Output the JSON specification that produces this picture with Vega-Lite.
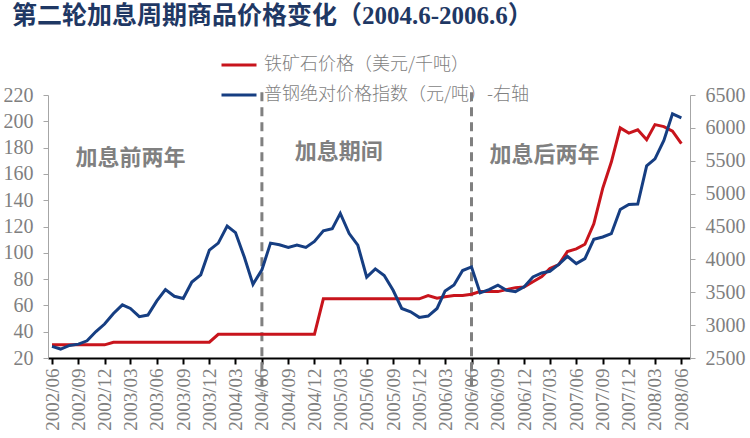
{
  "$schema": "https://vega.github.io/schema/vega-lite/v6.json",
  "width": 642,
  "height": 263,
  "autosize": {"type": "none"},
  "padding": {"left": 48, "top": 95, "right": 60, "bottom": 80},
  "background": "#ffffff",
  "config": {
    "view": {"stroke": null},
    "axis": {"labelOverlap": false, "labelFlush": false, "grid": false, "title": null},
    "axisLeft": {
      "labelFont": "Liberation Serif",
      "labelFontSize": 20,
      "labelColor": "#7f7f7f",
      "labelPadding": 10,
      "domainColor": "#a6a6a6",
      "tickColor": "#a6a6a6",
      "tickSize": 5
    }
  },
  "title": {
    "text": "第二轮加息周期商品价格变化（2004.6-2006.6）",
    "anchor": "start",
    "frame": "group",
    "dx": -36,
    "dy": -13,
    "font": "Liberation Serif, Noto Sans CJK SC",
    "fontSize": 25,
    "fontWeight": "bold",
    "color": "#1f3864"
  },
  "data": {
    "values": [
      {"month": "2002-06-01", "ore": 30, "steel": 2676},
      {"month": "2002-07-01", "ore": 30, "steel": 2636},
      {"month": "2002-08-01", "ore": 30, "steel": 2691},
      {"month": "2002-09-01", "ore": 30, "steel": 2711},
      {"month": "2002-10-01", "ore": 30, "steel": 2761},
      {"month": "2002-11-01", "ore": 30, "steel": 2902},
      {"month": "2002-12-01", "ore": 30, "steel": 3017},
      {"month": "2003-01-01", "ore": 32, "steel": 3178},
      {"month": "2003-02-01", "ore": 32, "steel": 3309},
      {"month": "2003-03-01", "ore": 32, "steel": 3253},
      {"month": "2003-04-01", "ore": 32, "steel": 3128},
      {"month": "2003-05-01", "ore": 32, "steel": 3153},
      {"month": "2003-06-01", "ore": 32, "steel": 3369},
      {"month": "2003-07-01", "ore": 32, "steel": 3540},
      {"month": "2003-08-01", "ore": 32, "steel": 3439},
      {"month": "2003-09-01", "ore": 32, "steel": 3404},
      {"month": "2003-10-01", "ore": 32, "steel": 3655},
      {"month": "2003-11-01", "ore": 32, "steel": 3765},
      {"month": "2003-12-01", "ore": 32, "steel": 4142},
      {"month": "2004-01-01", "ore": 38, "steel": 4247},
      {"month": "2004-02-01", "ore": 38, "steel": 4508},
      {"month": "2004-03-01", "ore": 38, "steel": 4408},
      {"month": "2004-04-01", "ore": 38, "steel": 4032},
      {"month": "2004-05-01", "ore": 38, "steel": 3620},
      {"month": "2004-06-01", "ore": 38, "steel": 3841},
      {"month": "2004-07-01", "ore": 38, "steel": 4247},
      {"month": "2004-08-01", "ore": 38, "steel": 4222},
      {"month": "2004-09-01", "ore": 38, "steel": 4182},
      {"month": "2004-10-01", "ore": 38, "steel": 4217},
      {"month": "2004-11-01", "ore": 38, "steel": 4182},
      {"month": "2004-12-01", "ore": 38, "steel": 4272},
      {"month": "2005-01-01", "ore": 65, "steel": 4433},
      {"month": "2005-02-01", "ore": 65, "steel": 4468},
      {"month": "2005-03-01", "ore": 65, "steel": 4699},
      {"month": "2005-04-01", "ore": 65, "steel": 4393},
      {"month": "2005-05-01", "ore": 65, "steel": 4217},
      {"month": "2005-06-01", "ore": 65, "steel": 3730},
      {"month": "2005-07-01", "ore": 65, "steel": 3856},
      {"month": "2005-08-01", "ore": 65, "steel": 3755},
      {"month": "2005-09-01", "ore": 65, "steel": 3530},
      {"month": "2005-10-01", "ore": 65, "steel": 3253},
      {"month": "2005-11-01", "ore": 65, "steel": 3203},
      {"month": "2005-12-01", "ore": 65, "steel": 3118},
      {"month": "2006-01-01", "ore": 67.5, "steel": 3138},
      {"month": "2006-02-01", "ore": 65.5, "steel": 3253},
      {"month": "2006-03-01", "ore": 66.5, "steel": 3520},
      {"month": "2006-04-01", "ore": 67.5, "steel": 3610},
      {"month": "2006-05-01", "ore": 67.5, "steel": 3830},
      {"month": "2006-06-01", "ore": 68.5, "steel": 3885},
      {"month": "2006-07-01", "ore": 70.5, "steel": 3490},
      {"month": "2006-08-01", "ore": 70.5, "steel": 3541},
      {"month": "2006-09-01", "ore": 70.5, "steel": 3607},
      {"month": "2006-10-01", "ore": 72, "steel": 3531},
      {"month": "2006-11-01", "ore": 73.5, "steel": 3510},
      {"month": "2006-12-01", "ore": 74, "steel": 3581},
      {"month": "2007-01-01", "ore": 78, "steel": 3733},
      {"month": "2007-02-01", "ore": 82, "steel": 3794},
      {"month": "2007-03-01", "ore": 88, "steel": 3819},
      {"month": "2007-04-01", "ore": 91, "steel": 3925},
      {"month": "2007-05-01", "ore": 101, "steel": 4047},
      {"month": "2007-06-01", "ore": 103, "steel": 3936},
      {"month": "2007-07-01", "ore": 106.5, "steel": 4011},
      {"month": "2007-08-01", "ore": 122, "steel": 4305},
      {"month": "2007-09-01", "ore": 149, "steel": 4340},
      {"month": "2007-10-01", "ore": 169, "steel": 4391},
      {"month": "2007-11-01", "ore": 195, "steel": 4760},
      {"month": "2007-12-01", "ore": 191, "steel": 4836},
      {"month": "2008-01-01", "ore": 193.5, "steel": 4841},
      {"month": "2008-02-01", "ore": 186, "steel": 5423},
      {"month": "2008-03-01", "ore": 197.5, "steel": 5529},
      {"month": "2008-04-01", "ore": 196, "steel": 5808},
      {"month": "2008-05-01", "ore": 192.5, "steel": 6213},
      {"month": "2008-06-01", "ore": 183, "steel": 6152}
    ]
  },
  "encoding": {
    "x": {
      "field": "month",
      "type": "temporal",
      "scale": {
        "type": "utc",
        "domain": [
          {"year": 2002, "month": 5, "date": 18, "utc": true},
          {"year": 2008, "month": 7, "date": 1, "utc": true}
        ]
      },
      "axis": {
        "format": "%Y/%m",
        "values": [
          {"year": 2002, "month": 6, "date": 1, "utc": true},
          {"year": 2002, "month": 9, "date": 1, "utc": true},
          {"year": 2002, "month": 12, "date": 1, "utc": true},
          {"year": 2003, "month": 3, "date": 1, "utc": true},
          {"year": 2003, "month": 6, "date": 1, "utc": true},
          {"year": 2003, "month": 9, "date": 1, "utc": true},
          {"year": 2003, "month": 12, "date": 1, "utc": true},
          {"year": 2004, "month": 3, "date": 1, "utc": true},
          {"year": 2004, "month": 6, "date": 1, "utc": true},
          {"year": 2004, "month": 9, "date": 1, "utc": true},
          {"year": 2004, "month": 12, "date": 1, "utc": true},
          {"year": 2005, "month": 3, "date": 1, "utc": true},
          {"year": 2005, "month": 6, "date": 1, "utc": true},
          {"year": 2005, "month": 9, "date": 1, "utc": true},
          {"year": 2005, "month": 12, "date": 1, "utc": true},
          {"year": 2006, "month": 3, "date": 1, "utc": true},
          {"year": 2006, "month": 6, "date": 1, "utc": true},
          {"year": 2006, "month": 9, "date": 1, "utc": true},
          {"year": 2006, "month": 12, "date": 1, "utc": true},
          {"year": 2007, "month": 3, "date": 1, "utc": true},
          {"year": 2007, "month": 6, "date": 1, "utc": true},
          {"year": 2007, "month": 9, "date": 1, "utc": true},
          {"year": 2007, "month": 12, "date": 1, "utc": true},
          {"year": 2008, "month": 3, "date": 1, "utc": true},
          {"year": 2008, "month": 6, "date": 1, "utc": true}
        ],
        "labelAngle": -90,
        "labelFont": "Liberation Serif",
        "labelFontSize": 19,
        "labelColor": "#7f7f7f",
        "labelPadding": 4,
        "domainColor": "#000000",
        "domainWidth": 2,
        "tickColor": "#000000",
        "tickWidth": 2,
        "tickSize": 6
      }
    }
  },
  "layer": [
    {
      "layer": [
        {
          "data": {"values": [{"month": "2004-06-01"}, {"month": "2006-06-01"}]},
          "mark": {"type": "rule", "color": "#808080", "strokeWidth": 3, "strokeDash": [9, 6]},
          "encoding": {
            "y": {
              "datum": 222,
              "type": "quantitative",
              "scale": {"domain": [20, 220], "nice": false},
              "axis": {"orient": "left", "values": [20, 40, 60, 80, 100, 120, 140, 160, 180, 200, 220], "labelOverlap": false}
            },
            "y2": {"datum": -7}
          }
        },
        {
          "data": {
            "values": [
              {"month": "2003-03-01", "v": 172, "label": "加息前两年"},
              {"month": "2005-02-24", "v": 176.5, "label": "加息期间"},
              {"month": "2007-02-10", "v": 174, "label": "加息后两年"}
            ]
          },
          "mark": {"type": "text", "font": "Noto Sans CJK SC", "fontSize": 22, "fontWeight": "bold", "color": "#808080"},
          "encoding": {
            "y": {
              "field": "v",
              "type": "quantitative",
              "axis": {"orient": "left", "values": [20, 40, 60, 80, 100, 120, 140, 160, 180, 200, 220], "labelOverlap": false}
            },
            "text": {"field": "label"}
          }
        },
        {
          "mark": {"type": "line", "strokeWidth": 3, "interpolate": "linear"},
          "encoding": {
            "y": {
              "field": "ore",
              "type": "quantitative",
              "axis": {"orient": "left", "values": [20, 40, 60, 80, 100, 120, 140, 160, 180, 200, 220], "labelOverlap": false}
            },
            "color": {
              "datum": "铁矿石价格（美元/千吨）",
              "type": "nominal",
              "scale": {
                "domain": ["铁矿石价格（美元/千吨）", "普钢绝对价格指数（元/吨）-右轴"],
                "range": ["#c8141c", "#163e82"]
              },
              "legend": {
                "orient": "none",
                "legendX": 172,
                "legendY": -49,
                "direction": "vertical",
                "title": null,
                "padding": 0,
                "symbolType": "stroke",
                "symbolSize": 1225,
                "symbolStrokeWidth": 3,
                "labelFont": "Noto Sans CJK SC",
                "labelFontSize": 18,
                "labelFontWeight": 300,
                "labelColor": "#7f7f7f",
                "labelOffset": 6,
                "labelLimit": 400,
                "rowPadding": 2
              }
            }
          }
        }
      ]
    },
    {
      "mark": {"type": "line", "strokeWidth": 3, "interpolate": "linear"},
      "encoding": {
        "y": {
          "field": "steel",
          "type": "quantitative",
          "scale": {"domain": [2500, 6500], "nice": false},
          "axis": {
            "orient": "right",
            "values": [2500, 3000, 3500, 4000, 4500, 5000, 5500, 6000, 6500],
            "format": "d",
            "labelFont": "Liberation Serif",
            "labelFontSize": 20,
            "labelColor": "#7f7f7f",
            "labelPadding": 10,
            "domainColor": "#a6a6a6",
            "tickColor": "#a6a6a6",
            "tickSize": 5
          }
        },
        "color": {
          "datum": "普钢绝对价格指数（元/吨）-右轴",
          "type": "nominal"
        }
      }
    }
  ],
  "resolve": {"scale": {"y": "independent"}}
}
